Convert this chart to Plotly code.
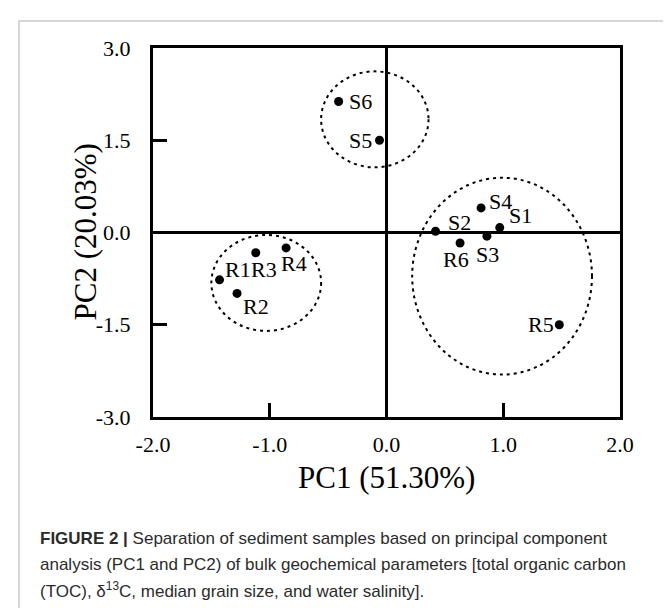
import plotly.graph_objects as go

# ---- data ----
sample_names = ["S1", "S2", "S3", "S4", "S5", "S6", "R1", "R2", "R3", "R4", "R5", "R6"]
pc1 = [0.97, 0.42, 0.86, 0.81, -0.06, -0.41, -1.43, -1.28, -1.12, -0.86, 1.48, 0.63]
pc2 = [0.08, 0.02, -0.06, 0.40, 1.50, 2.13, -0.77, -0.99, -0.33, -0.25, -1.50, -0.17]

# grouping ellipses (center x, center y, radius x, radius y) in PC units
group_cx = [-0.10, -1.03, 0.99]
group_cy = [1.84, -0.82, -0.71]
group_rx = [0.46, 0.47, 0.77]
group_ry = [0.78, 0.78, 1.60]

x_ticks = [-2, -1, 0, 1, 2]
x_ticktext = ["-2.0", "-1.0", "0.0", "1.0", "2.0"]
y_ticks = [-3, -1.5, 0, 1.5, 3]
y_ticktext = ["-3.0", "-1.5", "0.0", "1.5", "3.0"]

x_title = "PC1 (51.30%)"
y_title = "PC2 (20.03%)"
caption_lines = [
    "<b>FIGURE 2 |</b> Separation of sediment samples based on principal component",
    "analysis (PC1 and PC2) of bulk geochemical parameters [total organic carbon",
    "(TOC), δ<sup>13</sup>C, median grain size, and water salinity].",
]

# ---- styling: label offsets (px, text centre relative to marker) ----
label_offsets = {
    "S1": (21, 12), "S2": (24, 9), "S3": (1, -18), "S4": (19, 6),
    "S5": (-19, 0), "S6": (22, 0), "R1": (18, 10), "R2": (19, -13),
    "R3": (8, -17), "R4": (8, -16), "R5": (-18, 0), "R6": (-4, -17),
}

W, H = 671, 608
ML, MR, MT, MB = 145, 59, 40, 199
PW, PH = W - ML - MR, H - MT - MB


def px_x(px):
    return (px - ML) / PW


def px_y(py):
    return 1 - (py - MT) / PH


SERIF = "Liberation Serif, Times New Roman, serif"
SANS = "Liberation Sans, Arial, sans-serif"

fig = go.Figure()
fig.add_trace(go.Scatter(
    x=pc1, y=pc2, mode="markers",
    marker=dict(color="black", size=9),
    hoverinfo="text", text=sample_names, showlegend=False,
))

annotations = []
for name, xv, yv in zip(sample_names, pc1, pc2):
    dx, dy = label_offsets[name]
    annotations.append(dict(
        x=xv, y=yv, xref="x", yref="y", text=name, showarrow=False,
        xanchor="center", yanchor="middle", xshift=dx, yshift=dy,
        font=dict(family=SERIF, size=22, color="black"),
    ))

# axis titles
annotations.append(dict(
    x=0.5, y=px_y(469), xref="paper", yref="paper", text=x_title,
    showarrow=False, xanchor="center", yanchor="middle",
    font=dict(family=SERIF, size=31, color="black"),
))
annotations.append(dict(
    x=px_x(77), y=0.5, xref="paper", yref="paper", text=y_title,
    showarrow=False, xanchor="center", yanchor="middle", textangle=-90,
    font=dict(family=SERIF, size=31, color="black"),
))

for i, line in enumerate(caption_lines):
    annotations.append(dict(
        x=px_x(30), y=px_y(530 + i * 26), xref="paper", yref="paper",
        text=line, showarrow=False, xanchor="left", yanchor="middle",
        font=dict(family=SANS, size=17, color="#2b2b2b"),
    ))

shapes = []
for cx, cy, rx, ry in zip(group_cx, group_cy, group_rx, group_ry):
    shapes.append(dict(
        type="circle", xref="x", yref="y",
        x0=cx - rx, x1=cx + rx, y0=cy - ry, y1=cy + ry,
        line=dict(color="black", width=2, dash="3px,4px"),
        layer="above",
    ))
# outer figure frame
shapes.append(dict(
    type="rect", xref="paper", yref="paper",
    x0=px_x(11), x1=px_x(690), y0=px_y(13), y1=px_y(640),
    line=dict(color="#c9c9c9", width=1.5), layer="below",
))

axis_common = dict(
    showline=True, linecolor="black", linewidth=3, mirror=True,
    showgrid=False, zeroline=True, zerolinecolor="black", zerolinewidth=3,
    ticks="inside", ticklen=14, tickwidth=3, tickcolor="black",
    tickfont=dict(family=SERIF, size=22, color="black"),
)

fig.update_layout(
    width=W, height=H,
    margin=dict(l=ML, r=MR, t=MT, b=MB),
    paper_bgcolor="white", plot_bgcolor="white",
    xaxis=dict(range=[-2, 2], tickvals=x_ticks, ticktext=x_ticktext,
               ticklabelstandoff=6, **axis_common),
    yaxis=dict(range=[-3, 3], tickvals=y_ticks, ticktext=y_ticktext,
               ticklabelstandoff=15, **axis_common),
    annotations=annotations, shapes=shapes,
)

fig.write_html("out.html")
